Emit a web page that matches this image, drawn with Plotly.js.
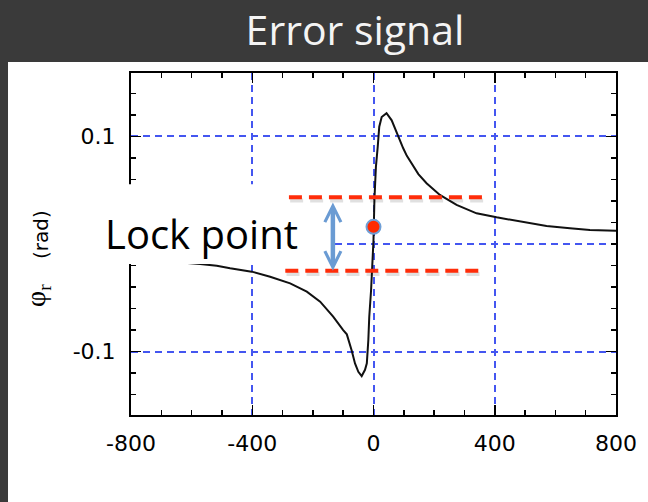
<!DOCTYPE html>
<html>
<head>
<meta charset="utf-8">
<script src="https://cdn.plot.ly/plotly-3.0.1.min.js"></script>
<style>
html,body{margin:0;padding:0;background:#3a3a3a;}
#chart{width:648px;height:502px;}
</style>
</head>
<body>
<div id="chart"></div>
<script>
// Curve samples (detuning vs phase)
const detuning = [-800, -750, -700, -650, -600, -572, -517, -473, -402, -341, -275, -220, -176, -133, -100, -88, -72, -61, -50, -39, -28, -22, -17, -14, -8, -4, 0, 3, 8, 14, 19, 27, 43, 60, 71, 82, 98, 110, 131, 148, 175, 219, 274, 340, 406, 483, 571, 648, 714, 800];
const phase = [-0.0135, -0.0145, -0.0155, -0.0165, -0.0178, -0.0186, -0.0202, -0.0226, -0.0257, -0.0304, -0.0366, -0.0443, -0.0536, -0.0676, -0.0800, -0.0840, -0.0990, -0.1110, -0.1188, -0.1228, -0.1170, -0.1110, -0.0890, -0.0676, -0.0430, -0.0210, 0.0037, 0.0410, 0.0720, 0.0905, 0.1090, 0.1180, 0.1216, 0.1150, 0.1070, 0.1000, 0.0890, 0.0820, 0.0719, 0.0650, 0.0565, 0.0456, 0.0363, 0.0285, 0.0248, 0.0207, 0.0167, 0.0146, 0.0130, 0.0124];

// Lock point marker
const lockX = [0];
const lockY = [0.016];

// Lock band (red dashed limits) and arrow
const bandUpper = {y: 0.0434, x0: -279, x1: 374};
const bandLower = {y: -0.0248, x0: -291, x1: 361};
const arrowX = -134;
const arrowTop = 0.040;
const arrowBottom = -0.0248;

// Tick labels
const xTickVals = [-800, -400, 0, 400, 800];
const xTickText = ['-800', '-400', '0', '400', '800'];
const yTickVals = [-0.1, 0.1];
const yTickText = ['-0.1', '0.1'];
const yZeroGrid = 0;

const traces = [
  {x: detuning, y: phase, type: 'scatter', mode: 'lines',
   line: {color: '#111111', width: 2}, hoverinfo: 'skip', showlegend: false},
  {x: lockX, y: lockY, type: 'scatter', mode: 'markers',
   marker: {size: 14, color: '#ff2a00', line: {color: '#6f9fd6', width: 2}},
   hoverinfo: 'skip', showlegend: false}
];

const gridCol = '#4456f0';
const gridDash = '7px,5px';
const layout = {
  width: 648, height: 502,
  paper_bgcolor: '#3a3a3a',
  plot_bgcolor: '#ffffff',
  margin: {l: 131, r: 32, t: 73, b: 87, pad: 0},
  title: {text: 'Error signal', font: {family: 'Open Sans', size: 41, color: '#f4f4f4'},
          x: 355/648, xanchor: 'center', xref: 'container', y: 1 - 31/502, yanchor: 'middle', yref: 'container'},
  xaxis: {range: [-800, 800], tickvals: xTickVals, ticktext: xTickText,
          ticks: 'inside', ticklen: 10, tickwidth: 1.5, tickcolor: '#000',
          showline: true, linecolor: '#000', linewidth: 2, mirror: 'allticks',
          showgrid: true, gridcolor: gridCol, gridwidth: 2, griddash: gridDash,
          zeroline: false, ticklabelstandoff: 8,
          minor: {dtick: 100, ticks: 'inside', ticklen: 5, tickcolor: '#000', tickwidth: 1.5, showgrid: false},
          tickfont: {family: 'DejaVu Sans', size: 22, color: '#000'}},
  yaxis: {range: [-0.159, 0.159], tickvals: yTickVals, ticktext: yTickText,
          ticks: 'inside', ticklen: 10, tickwidth: 1.5, tickcolor: '#000',
          showline: true, linecolor: '#000', linewidth: 2, mirror: 'allticks',
          showgrid: true, gridcolor: gridCol, gridwidth: 2, griddash: gridDash,
          zeroline: false, ticklabelstandoff: 9,
          minor: {dtick: 0.02, ticks: 'inside', ticklen: 5, tickcolor: '#000', tickwidth: 1.5, showgrid: false},
          tickfont: {family: 'DejaVu Sans', size: 22, color: '#000'}},
  shapes: [
    // white slide panel
    {type: 'rect', xref: 'paper', yref: 'paper', x0: -0.2536, x1: 1.07, y0: -0.26, y1: 1.032,
     fillcolor: '#ffffff', line: {width: 0}, layer: 'below'},
    // grid line at zero
    {type: 'line', xref: 'paper', yref: 'y', x0: 0, x1: 1, y0: yZeroGrid, y1: yZeroGrid,
     line: {color: gridCol, width: 2, dash: gridDash}, layer: 'below'},
    // white label box
    {type: 'rect', xref: 'paper', yref: 'paper', x0: -0.064, x1: 0.4165, y0: 0.4415, y1: 0.675,
     fillcolor: '#ffffff', line: {width: 0}, layer: 'above'},
    // shadows of band lines
    {type: 'line', xref: 'x', yref: 'y', x0: bandUpper.x0 + 4, x1: bandUpper.x1 + 4, y0: bandUpper.y - 0.003, y1: bandUpper.y - 0.003,
     line: {color: 'rgba(0,0,0,0.12)', width: 4, dash: '13px,7px'}, layer: 'above'},
    {type: 'line', xref: 'x', yref: 'y', x0: bandLower.x0 + 4, x1: bandLower.x1 + 4, y0: bandLower.y - 0.003, y1: bandLower.y - 0.003,
     line: {color: 'rgba(0,0,0,0.12)', width: 4, dash: '13px,7px'}, layer: 'above'},
    // red dashed band lines
    {type: 'line', xref: 'x', yref: 'y', x0: bandUpper.x0, x1: bandUpper.x1, y0: bandUpper.y, y1: bandUpper.y,
     line: {color: '#ff2d0a', width: 4, dash: '13px,7px'}, layer: 'above'},
    {type: 'line', xref: 'x', yref: 'y', x0: bandLower.x0, x1: bandLower.x1, y0: bandLower.y, y1: bandLower.y,
     line: {color: '#ff2d0a', width: 4, dash: '13px,7px'}, layer: 'above'}
  ],
  annotations: [
    {text: 'φ<sub>r</sub>', xref: 'paper', yref: 'paper', x: -0.1918, y: 0.351, xanchor: 'center', yanchor: 'middle',
     textangle: -90, showarrow: false, font: {family: 'Liberation Serif', size: 28, color: '#000'}},
    {text: '(rad)', xref: 'paper', yref: 'paper', x: -0.1856, y: 0.529, xanchor: 'center', yanchor: 'middle',
     textangle: -90, showarrow: false, font: {family: 'DejaVu Sans', size: 20, color: '#000'}},
    {text: 'Lock point', xref: 'paper', yref: 'paper', x: -0.058, y: 0.532, xanchor: 'left', yanchor: 'middle',
     showarrow: false, font: {family: 'Open Sans', size: 40, color: '#000'}},
    {xref: 'x', yref: 'y', axref: 'x', ayref: 'y', x: arrowX, y: arrowBottom, ax: arrowX, ay: arrowTop,
     text: '', showarrow: true, arrowside: 'end+start', arrowhead: 5, startarrowhead: 5,
     arrowsize: 0.7, startarrowsize: 0.7, arrowwidth: 4.5, arrowcolor: '#6a9bd3'}
  ]
};

Plotly.newPlot('chart', traces, layout, {displayModeBar: false, staticPlot: true});
</script>
</body>
</html>
